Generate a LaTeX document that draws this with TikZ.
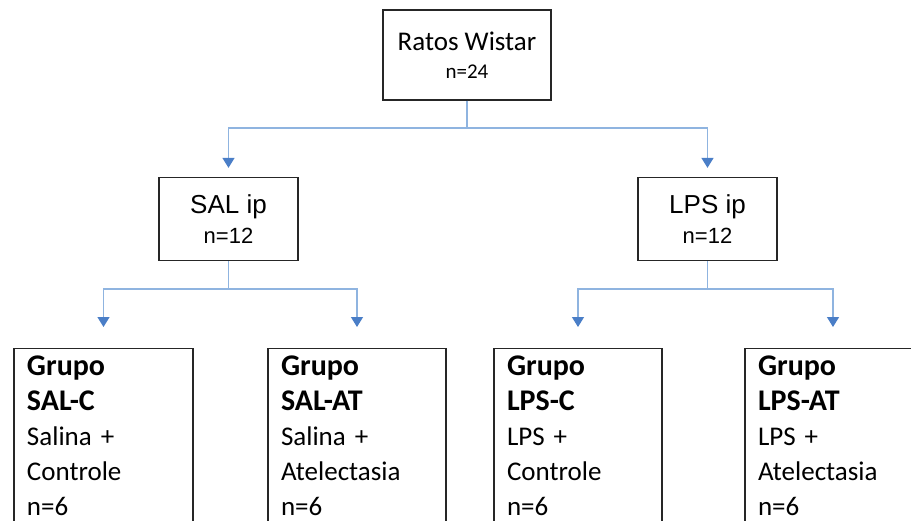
\documentclass[tikz,border=0pt]{standalone}
\usepackage{fontspec}
\setmainfont{Carlito}
\newfontfamily\arialf{Liberation Sans}
\usetikzlibrary{arrows.meta}
\definecolor{connblue}{RGB}{143,180,224}
\definecolor{tipblue}{RGB}{74,126,199}
\newcommand{\gb}{\bfseries\fontsize{30}{35}\selectfont}
\begin{document}
\begin{tikzpicture}[x=1pt,y=-1pt,
 box/.style={draw=black!85,line width=1.3pt,fill=white},
 conn/.style={draw=connblue,line width=1.3pt},
 arr/.style={conn,-{Triangle[width=12pt,length=10pt,color=tipblue]}},
 mid/.style={box,minimum width=139pt,minimum height=83pt,align=center,font=\arialf\fontsize{26}{30}\selectfont},
 grp/.style={box,anchor=north,align=left,inner xsep=13pt,inner ysep=7pt,font=\fontsize{27}{35}\selectfont}
]
\useasboundingbox (0,0) rectangle (911,520);
\clip (0,0) rectangle (911,520);

\node[box,minimum width=168pt,minimum height=90pt,align=center,font=\fontsize{27}{28}\selectfont] (top) at (467,55) {Ratos Wistar\\{\fontsize{21}{28}\selectfont n=24}};

\node[mid] (sal) at (228.5,219) {SAL ip\\{\fontsize{22}{30}\selectfont n=12}};
\node[mid] (lps) at (707.5,219) {LPS ip\\{\fontsize{22}{30}\selectfont n=12}};

\node[grp,text width=153pt] (salc) at (103.5,348) {{\gb Grupo}\\{\gb SAL-C}\\Salina +\\Controle\\n=6};
\node[grp,text width=152pt] (salat) at (357,348) {{\gb Grupo}\\{\gb SAL-AT}\\Salina +\\Atelectasia\\n=6};
\node[grp,text width=142pt] (lpsc) at (578,348) {{\gb Grupo}\\{\gb LPS-C}\\LPS +\\Controle\\n=6};
\node[grp,text width=150pt] (lpsat) at (833,348) {{\gb Grupo}\\{\gb LPS-AT}\\LPS +\\Atelectasia\\n=6};

\coordinate (j1) at (467,128);
\draw[conn] (top.south) -- (j1);
\draw[arr] (j1) -| ([yshift=9pt]sal.north);
\draw[arr] (j1) -| ([yshift=9pt]lps.north);

\coordinate (j2) at (228.5,289);
\draw[conn] (sal.south) -- (j2);
\draw[arr] (j2) -| ([yshift=21pt]salc.north);
\draw[arr] (j2) -| ([yshift=21pt]salat.north);

\coordinate (j3) at (707.5,289);
\draw[conn] (lps.south) -- (j3);
\draw[arr] (j3) -| ([yshift=21pt]lpsc.north);
\draw[arr] (j3) -| ([yshift=21pt]lpsat.north);
\end{tikzpicture}
\end{document}
